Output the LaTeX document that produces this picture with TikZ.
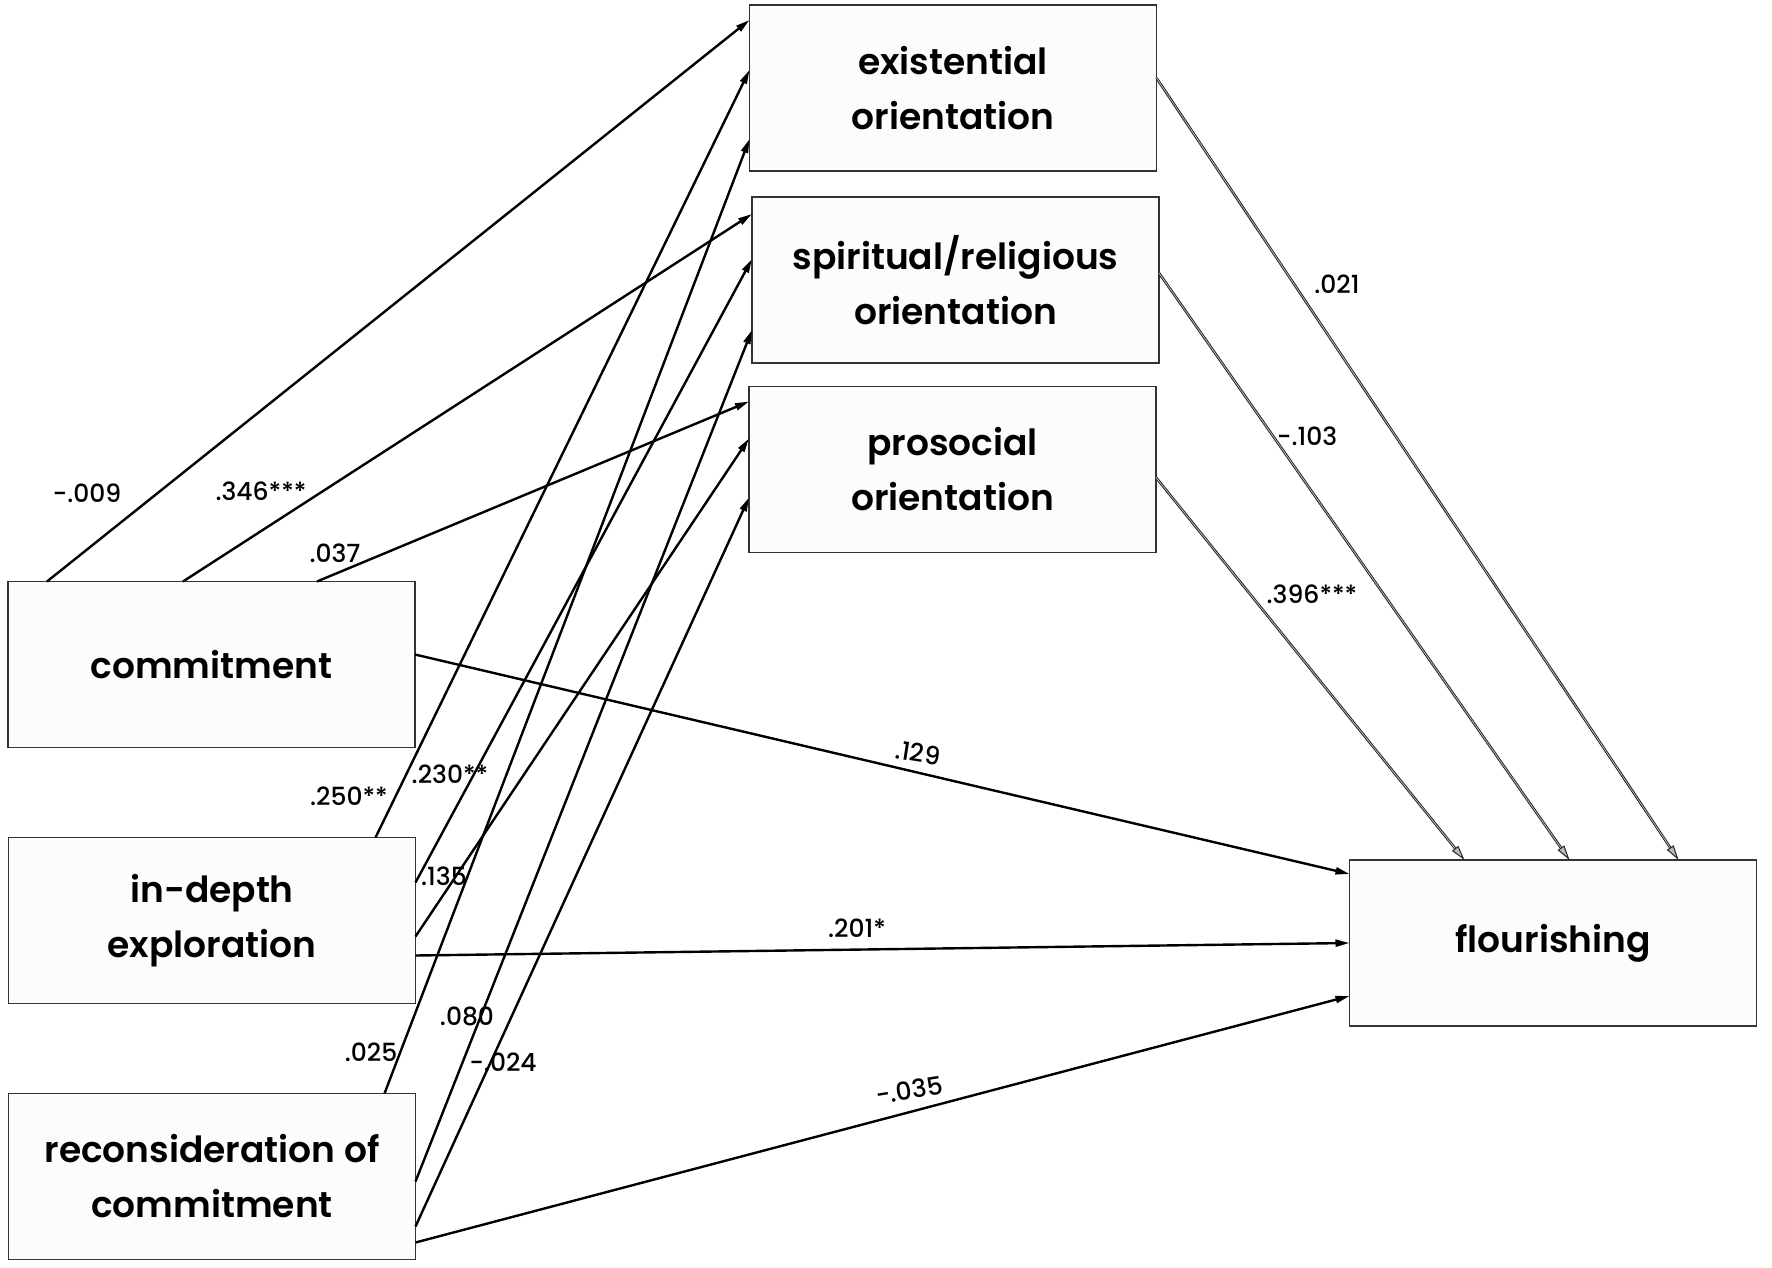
\documentclass[tikz,border=0pt]{standalone}
\usepackage{fontspec}
\setmainfont{Poppins}[UprightFont={* Medium}]
\newfontfamily\boxfont{Poppins}[UprightFont={* SemiBold}]
\usetikzlibrary{calc,arrows.meta}
\definecolor{boxfill}{HTML}{FDFBFC}
\definecolor{boxline}{HTML}{333333}
\tikzset{
  var/.style={draw=boxline, line width=1.6pt, fill=boxfill, minimum width=407pt, minimum height=166pt, inner sep=0pt, outer sep=0pt, align=center, font=\boxfont\fontsize{36}{55}\selectfont},
  arr/.style={line width=2.4pt, -{Triangle[length=14pt,width=7pt]}},
  arrg/.style={draw=black!85, line width=1pt, double=gray!35, double distance=0.6pt, -{Triangle[length=15pt,width=8pt,fill=gray!55,color=black!85,line width=1pt]}},
  coef/.style={font=\fontsize{25}{28}\selectfont, inner sep=0pt}
}
\begin{document}
\begin{tikzpicture}[x=1pt,y=-1pt]
\fill[white] (0,0) rectangle (1772,1268);
\useasboundingbox (0,0) rectangle (1772,1268);

\node[var] (ex) at (953,88) {existential\\orientation};
\node[var] (sp) at (955.5,280) {spiritual/religious\\orientation};
\node[var] (pr) at (952.5,469.5) {prosocial\\orientation};
\node[var] (com) at (211.5,664.5) {commitment};
\node[var] (ind) at (212,920.5) {in-depth\\exploration};
\node[var] (rec) at (212,1176.5) {reconsideration of\\commitment};
\node[var] (fl) at (1553,943) {flourishing};

% commitment
\draw[arr] ($(com.north west)+(39,0)$) -- ($(ex.north west)+(0,15)$);
\draw[arr] ($(com.north west)+(175,0)$) -- ($(sp.north west)+(0,17)$);
\draw[arr] ($(com.north west)+(309,0)$) -- ($(pr.north west)+(0,15)$);
\draw[arr] ($(com.north east)+(0,73)$) -- ($(fl.north west)+(0,14)$);
% in-depth exploration
\draw[arr] ($(ind.north west)+(367,0)$) -- ($(ex.north west)+(0,65)$);
\draw[arr] ($(ind.north east)+(0,45)$) -- ($(sp.north west)+(0,62)$);
\draw[arr] ($(ind.north east)+(0,99)$) -- ($(pr.north west)+(0,52)$);
\draw[arr] ($(ind.north east)+(0,118)$) -- ($(fl.north west)+(0,83)$);
% reconsideration
\draw[arr] ($(rec.north west)+(376,0)$) -- ($(ex.north west)+(0,134)$);
\draw[arr] ($(rec.north east)+(0,88)$) -- ($(sp.north west)+(0,133)$);
\draw[arr] ($(rec.north east)+(0,133)$) -- ($(pr.north west)+(0,111)$);
\draw[arr] ($(rec.north east)+(0,149)$) -- ($(fl.north west)+(0,136)$);
% orientations to flourishing
\draw[arrg] ($(ex.north east)+(0,73)$) -- ($(fl.north west)+(329,0)$);
\draw[arrg] ($(sp.north east)+(0,76)$) -- ($(fl.north west)+(220,0)$);
\draw[arrg] ($(pr.north east)+(0,91)$) -- ($(fl.north west)+(115,0)$);

% coefficients
\node[coef] (c1) at (87,493) {-.009};
\node[coef] (c2) at (261,491) {.346***};
\node[coef] (c3) at (335,553) {.037};
\node[coef, rotate=-9] (c4) at (918,753) {.129};
\node[coef] (c5) at (349,796) {.250**};
\node[coef] (c6) at (450,774) {.230**};
\node[coef] (c7) at (444,876) {.135};
\node[coef] (c8) at (857,928) {.201*};
\node[coef] (c9) at (371,1052) {.025};
\node[coef] (c10) at (467,1016) {.080};
\node[coef] (c11) at (503,1062) {-.024};
\node[coef, rotate=9] (c12) at (909,1090) {-.035};
\node[coef] (c13) at (1337,284) {.021};
\node[coef] (c14) at (1307,436) {-.103};
\node[coef] (c15) at (1312,594) {.396***};
\end{tikzpicture}
\end{document}
